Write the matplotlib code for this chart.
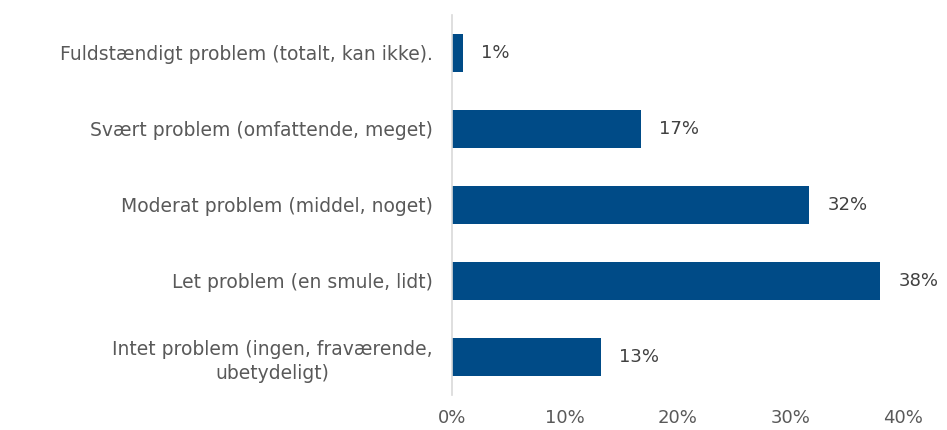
import matplotlib.pyplot as plt
import numpy as np

plt.rcParams['font.family'] = ['DejaVu Sans']

categories = [
    'Fuldstændigt problem (totalt, kan ikke).',
    'Svært problem (omfattende, meget)',
    'Moderat problem (middel, noget)',
    'Let problem (en smule, lidt)',
    'Intet problem (ingen, fraværende,\nubetydeligt)',
]
values = [0.97, 16.8, 31.7, 38.0, 13.2]
value_labels = ['1%', '17%', '32%', '38%', '13%']
x_ticks = [0, 10, 20, 30, 40]

bar_color = '#004b87'
text_color = '#595959'

fig = plt.figure(figsize=(9.47, 4.30), dpi=100)
ax = fig.add_axes([452 / 947, 35 / 430, (903 - 452) / 947, 380 / 430])

y = np.arange(len(categories))
ax.barh(y, values, height=0.49, color=bar_color)

for yi, v, lab in zip(y, values, value_labels):
    ax.annotate(lab, (v, yi), xytext=(13, 0), textcoords='offset points',
                ha='left', va='center', fontsize=13, color='#404040')

ax.set_ylim(len(categories) - 0.5, -0.5)
ax.set_xlim(0, 40)
ax.set_yticks(y)
ax.set_yticklabels(categories, fontsize=13.5, color=text_color,
                   multialignment='center', linespacing=1.35)
ax.set_xticks(x_ticks)
ax.set_xticklabels([f'{t}%' for t in x_ticks], fontsize=13, color=text_color)
ax.tick_params(axis='both', length=0)
ax.tick_params(axis='y', pad=14)
ax.tick_params(axis='x', pad=10)

for s in ['top', 'right', 'bottom']:
    ax.spines[s].set_visible(False)
ax.spines['left'].set_color('#d9d9d9')
ax.spines['left'].set_linewidth(1.2)

fig.savefig('out.png', dpi=100)
